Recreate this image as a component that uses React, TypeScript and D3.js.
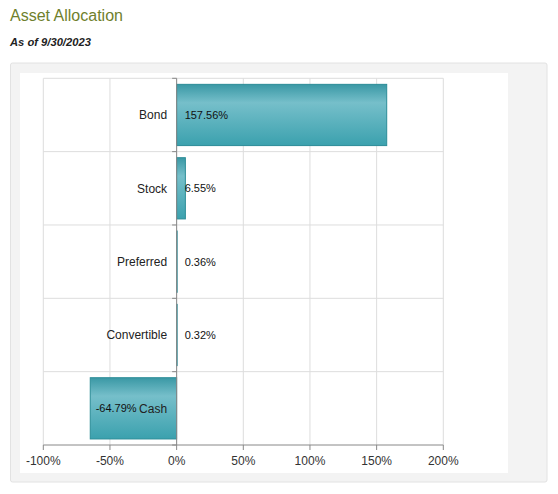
import React from "react";
import * as d3 from "d3";

const categories = ["Bond", "Stock", "Preferred", "Convertible", "Cash"];
const values = [157.56, 6.55, 0.36, 0.32, -64.79];
const xTicks = [-100, -50, 0, 50, 100, 150, 200];

const W = 558;
const H = 494;

export default function App() {
  const x = d3.scaleLinear().domain([-100, 200]).range([43.3, 443.3]);
  const y = d3.scaleBand<string>().domain(categories).range([78.3, 445]).paddingInner(0.165).paddingOuter(0.0825);
  const yOuter = d3.scaleBand<string>().domain(categories).range([78.3, 445]);
  const fmt = (v: number) => v.toFixed(2) + "%";
  const font = "Arial, 'Liberation Sans', sans-serif";
  const boundaries = [...categories.map((c) => yOuter(c) as number), 445];

  return (
    <svg width={W} height={H} style={{ position: "absolute", left: 0, top: 0, fontFamily: font }}>
      <defs>
        <linearGradient id="barGrad" x1="0" y1="0" x2="0" y2="1">
          <stop offset="0" stopColor="#3a98a5" />
          <stop offset="0.3" stopColor="#76bfca" />
          <stop offset="1" stopColor="#3ba1ae" />
        </linearGradient>
      </defs>
      <rect x={0} y={0} width={W} height={H} fill="#ffffff" />
      <text x={10} y={20.5} fontSize={16} fill="#6f7f2c">Asset Allocation</text>
      <text x={10} y={45.5} fontSize={11.2} fontWeight="bold" fontStyle="italic" fill="#222">As of 9/30/2023</text>
      <rect x={10.5} y={63} width={536.5} height={419} rx={2} fill="#f3f3f3" stroke="#e2e2e2" />
      <rect x={20} y={73} width={488} height={400} fill="#ffffff" />

      {xTicks.map((t) => (
        <line key={"vg" + t} x1={x(t)} x2={x(t)} y1={78.3} y2={445} stroke="#dddddd" strokeWidth={1} />
      ))}
      {boundaries.slice(0, 5).map((b, i) => (
        <line key={"hg" + i} x1={43.3} x2={443.3} y1={b} y2={b} stroke="#dddddd" strokeWidth={1} />
      ))}

      {categories.map((c, i) => {
        const v = values[i];
        const x0 = x(Math.min(0, v));
        const x1 = x(Math.max(0, v));
        return (
          <rect
            key={"b" + c}
            x={x0}
            y={y(c) as number}
            width={Math.max(0.5, x1 - x0)}
            height={y.bandwidth()}
            fill="url(#barGrad)"
            stroke="#2b8c97"
            strokeWidth={1}
          />
        );
      })}

      <line x1={x(0)} x2={x(0)} y1={78.3} y2={445} stroke="#888" strokeWidth={1} />
      {boundaries.map((b, i) => (
        <line key={"yt" + i} x1={x(0) - 4.5} x2={x(0)} y1={b} y2={b} stroke="#888" strokeWidth={1} />
      ))}
      <line x1={43.3} x2={443.3} y1={445} y2={445} stroke="#888" strokeWidth={1} />
      {xTicks.map((t) => (
        <g key={"xt" + t}>
          <line x1={x(t)} x2={x(t)} y1={445} y2={450} stroke="#888" strokeWidth={1} />
          <text x={x(t)} y={465} fontSize={12} textAnchor="middle" fill="#333">{t + "%"}</text>
        </g>
      ))}

      {categories.map((c) => (
        <text key={"cl" + c} x={x(0) - 9.5} y={(yOuter(c) as number) + yOuter.bandwidth() / 2 + 4.3} fontSize={12} textAnchor="end" fill="#222">{c}</text>
      ))}
      {categories.map((c, i) => {
        const v = values[i];
        const cy = (yOuter(c) as number) + yOuter.bandwidth() / 2 + 4;
        return v >= 0 ? (
          <text key={"vl" + c} x={x(0) + 8} y={cy} fontSize={11} fill="#111">{fmt(v)}</text>
        ) : (
          <text key={"vl" + c} x={x(0) - 40} y={cy} fontSize={11} textAnchor="end" fill="#111">{fmt(v)}</text>
        );
      })}
    </svg>
  );
}
